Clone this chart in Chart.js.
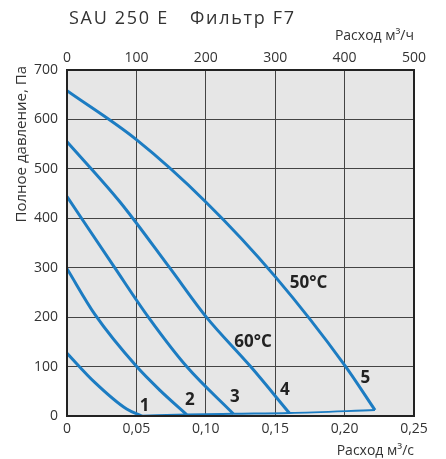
<!DOCTYPE html>
<html>
<head>
<meta charset="utf-8">
<script src="https://cdn.jsdelivr.net/npm/chart.js@4.4.0/dist/chart.umd.min.js"></script>
<style>
  html, body { margin: 0; padding: 0; background: #fff; }
  #wrap { width: 446px; height: 459px; position: relative; }
</style>
</head>
<body>
<div id="wrap"><canvas id="chart"></canvas></div>
<script>
// tick labels
var flowSecTicks = ["0", "0,05", "0,10", "0,15", "0,20", "0,25"];
var flowHourTicks = ["0", "100", "200", "300", "400", "500"];
var pressureTicks = ["0", "100", "200", "300", "400", "500", "600", "700"];

// curves, [flow m3/s, pressure Pa]
var curve1 = [[0, 127], [0.02, 68], [0.043, 14], [0.054, 0]];
var curve2 = [[0, 298], [0.0202, 205], [0.0502, 100], [0.067, 52], [0.0862, 3]];
var curve3 = [[0, 444], [0.0346, 299], [0.0586, 200], [0.0862, 100], [0.1198, 4.5]];
var curve4 = [[0, 555], [0.0382, 433], [0.0742, 299], [0.1004, 200], [0.1323, 100], [0.1602, 6]];
var curve5 = [[0, 658], [0.05, 559], [0.1, 433], [0.15, 282], [0.2, 103], [0.2219, 12]];
var systemLine = [[0.054, 0.5], [0.0862, 3], [0.1198, 4.5], [0.1602, 6], [0.2219, 12]];

// labels on the plot: [text, flow, pressure]
var curveLabels = [
  ["1", 0.056, 20], ["2", 0.0886, 32], ["3", 0.121, 39], ["4", 0.157, 52], ["5", 0.215, 76],
  ["60°C", 0.134, 150], ["50°C", 0.174, 268]
];

var BLUE = "#1c7cc2";
var TXT = "#333";

function pts(arr) {
  return arr.map(function (p) { return { x: p[0], y: p[1] }; });
}

function curveSet(arr, width) {
  return {
    data: pts(arr),
    borderColor: BLUE,
    borderWidth: width,
    showLine: true,
    pointRadius: 0,
    cubicInterpolationMode: "monotone",
    fill: false
  };
}

var decor = {
  id: "decor",
  beforeDraw: function (chart) {
    var a = chart.chartArea, ctx = chart.ctx;
    ctx.save();
    ctx.fillStyle = "#e6e6e6";
    ctx.fillRect(a.left, a.top, a.right - a.left, a.bottom - a.top);
    ctx.restore();
  },
  afterDraw: function (chart) {
    var a = chart.chartArea, ctx = chart.ctx;
    var xs = chart.scales.x, ys = chart.scales.y;
    ctx.save();
    ctx.strokeStyle = "#222";
    ctx.lineWidth = 2;
    ctx.strokeRect(a.left, a.top, a.right - a.left, a.bottom - a.top);

    ctx.fillStyle = TXT;
    ctx.textBaseline = "middle";
    ctx.font = "18px 'Open Sans'";
    ctx.textAlign = "left";
    ctx.letterSpacing = "1.7px";
    ctx.fillText("SAU 250 E", 69, 19);
    ctx.fillText("Фильтр F7", 190, 19);
    ctx.letterSpacing = "0px";

    ctx.font = "14px 'Open Sans'";
    ctx.textAlign = "right";
    ctx.fillText("Расход м³/ч", 414, 36);
    ctx.fillText("Расход м³/с", 414, 451);

    ctx.save();
    ctx.translate(22, 66);
    ctx.rotate(-Math.PI / 2);
    ctx.font = "15px 'Open Sans'";
    ctx.textAlign = "right";
    ctx.fillText("Полное давление, Па", 0, 0);
    ctx.restore();

    ctx.fillStyle = "#222";
    ctx.font = "bold 17px 'Open Sans'";
    ctx.textAlign = "center";
    curveLabels.forEach(function (l) {
      ctx.fillText(l[0], xs.getPixelForValue(l[1]), ys.getPixelForValue(l[2]));
    });
    ctx.restore();
  }
};

var tickFont = { family: "'Open Sans'", size: 14 };

new Chart(document.getElementById("chart"), {
  type: "scatter",
  data: {
    datasets: [
      curveSet(curve1, 3), curveSet(curve2, 3), curveSet(curve3, 3),
      curveSet(curve4, 3), curveSet(curve5, 3), curveSet(systemLine, 2)
    ]
  },
  options: {
    responsive: true,
    maintainAspectRatio: false,
    animation: false,
    layout: { padding: { top: 0, left: 0, right: 32, bottom: 0 } },
    plugins: { legend: { display: false }, tooltip: { enabled: false } },
    scales: {
      x: {
        type: "linear",
        position: "bottom",
        min: 0, max: 0.25,
        afterFit: function (s) { s.height = 43; },
        ticks: {
          stepSize: 0.05, color: TXT, font: tickFont, padding: 5, maxRotation: 0,
          callback: function (v, i) { return flowSecTicks[i]; }
        },
        grid: { color: "#444", lineWidth: 1, drawTicks: false },
        border: { display: false }
      },
      x2: {
        type: "linear",
        position: "top",
        min: 0, max: 500,
        afterFit: function (s) { s.height = 70; },
        ticks: {
          stepSize: 100, color: TXT, font: tickFont, padding: 4, maxRotation: 0,
          callback: function (v, i) { return flowHourTicks[i]; }
        },
        grid: { display: false, drawTicks: false },
        border: { display: false }
      },
      y: {
        type: "linear",
        min: 0, max: 700,
        afterFit: function (s) { s.width = 67; },
        ticks: {
          stepSize: 100, color: TXT, font: tickFont, padding: 9,
          callback: function (v, i) { return pressureTicks[i]; }
        },
        grid: { color: "#444", lineWidth: 1, drawTicks: false },
        border: { display: false }
      }
    }
  },
  plugins: [decor]
});
</script>
</body>
</html>
